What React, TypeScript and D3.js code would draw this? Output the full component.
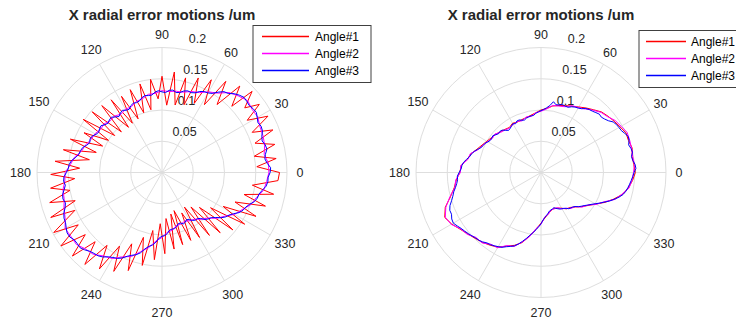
import { useEffect, useRef } from 'react';
import * as d3 from 'd3';

const width = 736;
const height = 325;
const titleText = 'X radial error motions /um';
const seriesNames = ['Angle#1', 'Angle#2', 'Angle#3'];
const seriesColors = ['#ff0000', '#ff00ff', '#0000ff'];
const thetaTicks = [0, 30, 60, 90, 120, 150, 180, 210, 240, 270, 300, 330];
const rTicks = [0.05, 0.1, 0.15, 0.2];

// sample angles (deg) of the measured traces
const fineAngles = d3.range(0, 360, 2.5);
const coarseAngles = d3.range(0, 360, 5);

// Angle#1 (left) is noisy and folds back on itself, so it keeps its own angles
const leftAngle1Theta = [
    0, 3.5, 7, 10, 14, 17.5, 21, 24, 28, 31.5, 35, 38, 42, 43.5, 48, 51, 55, 58, 62, 65,
    69, 72, 76, 79, 83, 86, 90, 93, 97, 100, 104, 107, 111, 114, 118, 121, 125, 126.5, 132, 135,
    139, 142, 146, 149, 153, 156, 160, 163, 167, 170, 174, 177, 181, 184, 188, 191, 195, 198, 202, 203.5,
    209, 212, 216, 219, 223, 226, 230, 233, 237, 240, 244, 247, 251, 254, 258, 261, 265, 268, 272, 275,
    279, 282, 286, 287.5, 293, 296, 300, 303, 307, 310, 314, 317, 321, 324, 328, 331, 335, 338, 342, 345,
    349, 352, 356
];

// radial error values, in 1e-3 um
const leftAngle1 = [
    188, 152, 184, 150, 186, 156, 190, 158, 192, 160, 190, 168, 194, 154, 186, 140, 178, 128, 168, 122,
    162, 114, 156, 110, 162, 108, 154, 118, 150, 102, 146, 100, 142, 94, 138, 92, 142, 90, 144, 92,
    148, 96, 152, 100, 140, 104, 156, 110, 162, 118, 172, 132, 178, 140, 180, 150, 186, 146, 192, 152,
    198, 158, 200, 158, 196, 154, 192, 146, 184, 136, 176, 124, 166, 108, 152, 94, 140, 82, 130, 74,
    124, 68, 120, 64, 118, 72, 120, 66, 126, 72, 134, 82, 146, 96, 156, 112, 166, 126, 174, 136,
    182, 146, 186
];
const leftAngle2 = [
    171, 171, 166, 170, 172, 173, 177, 176, 179, 173, 167, 155, 149, 141, 138, 133, 132, 130, 131, 127,
    127, 122, 121, 116, 117, 114, 118, 117, 121, 120, 124, 125, 130, 133, 142, 147, 155, 156, 161, 162,
    167, 171, 179, 178, 179, 173, 171, 163, 159, 149, 143, 131, 122, 110, 104, 96, 94, 88, 88, 86,
    89, 91, 98, 103, 114, 122, 134, 141, 151, 156, 165, 168
];
const leftAngle3 = [
    173, 174, 169, 166, 168, 172, 171, 168, 170, 174, 175, 173, 176, 179, 178, 176, 177, 178, 175, 171,
    165, 163, 157, 150, 147, 146, 143, 138, 136, 137, 135, 131, 130, 133, 132, 128, 129, 131, 129, 125,
    125, 126, 124, 120, 119, 120, 118, 114, 115, 118, 116, 113, 116, 120, 119, 117, 119, 123, 122, 120,
    122, 126, 127, 125, 128, 133, 135, 136, 140, 146, 149, 150, 153, 157, 158, 156, 159, 163, 164, 162,
    165, 170, 173, 174, 177, 180, 180, 177, 177, 178, 175, 171, 169, 168, 165, 160, 157, 155, 151, 145,
    141, 138, 133, 125, 120, 117, 112, 105, 102, 101, 98, 93, 92, 92, 90, 86, 86, 89, 88, 85,
    87, 91, 93, 93, 96, 102, 105, 107, 112, 119, 124, 127, 132, 139, 143, 145, 149, 155, 158, 159,
    163, 168, 170, 170
];
const rightAngle1 = [
    151, 149, 148, 151, 149, 150, 146, 143, 140, 137, 131, 126, 121, 117, 114, 111, 108, 103, 100, 96,
    93, 91, 90, 89, 91, 88, 90, 92, 95, 97, 100, 104, 109, 116, 120, 128, 130, 136, 141, 150,
    163, 170, 165, 158, 153, 149, 146, 142, 138, 130, 124, 116, 103, 91, 81, 73, 67, 63, 61, 63,
    66, 71, 73, 78, 85, 92, 101, 113, 124, 135, 142, 147
];
const rightAngle2 = [
    148, 150, 149, 150, 151, 152, 148, 145, 139, 136, 130, 124, 120, 118, 112, 110, 109, 102, 98, 96,
    91, 92, 88, 90, 89, 87, 89, 91, 96, 95, 99, 103, 107, 117, 119, 129, 129, 137, 140, 151,
    162, 169, 166, 157, 154, 147, 147, 140, 139, 129, 126, 115, 104, 90, 83, 71, 68, 62, 62, 62,
    67, 70, 75, 77, 86, 91, 102, 111, 126, 134, 143, 146
];
const rightAngle3 = [
    149, 152, 151, 148, 147, 150, 149, 147, 150, 151, 148, 145, 144, 143, 141, 136, 133, 131, 132, 130,
    128, 127, 125, 121, 119, 118, 116, 113, 113, 114, 112, 111, 115, 108, 104, 101, 99, 97, 95, 92,
    92, 91, 90, 88, 89, 91, 91, 88, 90, 88, 86, 85, 88, 92, 93, 92, 94, 97, 96, 96,
    98, 101, 102, 104, 108, 112, 115, 117, 121, 125, 127, 128, 131, 134, 134, 136, 139, 143, 146, 150,
    155, 158, 158, 161, 162, 159, 156, 154, 152, 150, 148, 147, 145, 142, 141, 139, 137, 135, 131, 128,
    125, 120, 114, 108, 102, 97, 92, 87, 82, 76, 72, 69, 66, 63, 62, 61, 60, 62, 64, 66,
    67, 68, 70, 73, 74, 75, 77, 81, 84, 87, 91, 95, 100, 106, 112, 119, 125, 131, 136, 139,
    141, 143, 145, 147
];

const charts = [
    {
        cx: 162,
        cy: 172.5,
        series: [
            { angles: leftAngle1Theta, values: leftAngle1 },
            { angles: coarseAngles, values: leftAngle2 },
            { angles: fineAngles, values: leftAngle3 }
        ],
        legend: { x: 253, y: 25.5, w: 118, h: 57, line: [9, 56], text: 62 }
    },
    {
        cx: 541,
        cy: 172.5,
        series: [
            { angles: coarseAngles, values: rightAngle1 },
            { angles: coarseAngles, values: rightAngle2 },
            { angles: fineAngles, values: rightAngle3 }
        ],
        legend: { x: 639, y: 30.5, w: 118, h: 57, line: [7, 47], text: 52 }
    }
];

const font = '"Liberation Sans", Arial, Helvetica, sans-serif';
const textColor = '#262626';
const gridColor = '#dedede';
const R = 125;

export default function App() {
    const ref = useRef<SVGSVGElement>(null);

    useEffect(() => {
        document.body.style.margin = '0';
        const svg = d3.select(ref.current);
        svg.selectAll('*').remove();
        svg.append('rect').attr('width', width).attr('height', height).attr('fill', '#fff');

        const rScale = d3.scaleLinear().domain([0, 0.2]).range([0, R]);
        const rad = (deg: number) => (deg * Math.PI) / 180;

        charts.forEach((c) => {
            const g = svg.append('g').attr('transform', `translate(${c.cx},${c.cy})`);

            // grid
            g.selectAll('circle.ring')
                .data(rTicks)
                .join('circle')
                .attr('r', (d) => rScale(d))
                .attr('fill', 'none')
                .attr('stroke', gridColor)
                .attr('stroke-width', 1);
            g.selectAll('line.spoke')
                .data(thetaTicks)
                .join('line')
                .attr('x1', 0)
                .attr('y1', 0)
                .attr('x2', (d) => R * Math.cos(rad(d)))
                .attr('y2', (d) => -R * Math.sin(rad(d)))
                .attr('stroke', gridColor)
                .attr('stroke-width', 1);

            // theta labels
            g.selectAll('text.theta')
                .data(thetaTicks)
                .join('text')
                .attr('font-family', font)
                .attr('font-size', 12.5)
                .attr('fill', textColor)
                .attr('text-anchor', 'middle')
                .attr('dominant-baseline', 'central')
                .each(function (d) {
                    const a = rad(d);
                    const wide = String(d).length === 3;
                    const off = 138 + (wide ? 3.5 * Math.abs(Math.cos(a)) + 2 * Math.abs(Math.sin(a)) : 0);
                    d3.select(this)
                        .attr('x', off * Math.cos(a))
                        .attr('y', -off * Math.sin(a))
                        .text(d);
                });

            // r labels at 80 deg
            g.selectAll('text.rtick')
                .data(rTicks)
                .join('text')
                .attr('font-family', font)
                .attr('font-size', 12.5)
                .attr('fill', textColor)
                .attr('dominant-baseline', 'central')
                .attr('x', (d) => rScale(d) * Math.cos(rad(80)) + 5)
                .attr('y', (d) => -rScale(d) * Math.sin(rad(80)) - 10)
                .text((d) => String(d));

            // traces, Angle#3 ends up on top
            c.series.forEach((s, i) => {
                const pts = s.values.map((v, k) => [s.angles[k], v / 1000] as [number, number]);
                const line = d3
                    .line<[number, number]>()
                    .x((d) => rScale(d[1]) * Math.cos(rad(d[0])))
                    .y((d) => -rScale(d[1]) * Math.sin(rad(d[0])))
                    .curve(d3.curveLinearClosed);
                g.append('path')
                    .attr('d', line(pts))
                    .attr('fill', 'none')
                    .attr('stroke', seriesColors[i])
                    .attr('stroke-width', 1);
            });

            // title
            svg.append('text')
                .attr('x', c.cx)
                .attr('y', 20)
                .attr('text-anchor', 'middle')
                .attr('font-family', font)
                .attr('font-size', 15)
                .attr('font-weight', 'bold')
                .attr('fill', textColor)
                .text(titleText);

            // legend
            const lg = svg.append('g').attr('transform', `translate(${c.legend.x},${c.legend.y})`);
            lg.append('rect')
                .attr('width', c.legend.w)
                .attr('height', c.legend.h)
                .attr('fill', '#fff')
                .attr('stroke', '#404040')
                .attr('stroke-width', 1);
            seriesNames.forEach((name, i) => {
                const y = 11 + i * 17;
                lg.append('line')
                    .attr('x1', c.legend.line[0])
                    .attr('x2', c.legend.line[1])
                    .attr('y1', y)
                    .attr('y2', y)
                    .attr('stroke', seriesColors[i])
                    .attr('stroke-width', 1.3);
                lg.append('text')
                    .attr('x', c.legend.text)
                    .attr('y', y)
                    .attr('dominant-baseline', 'central')
                    .attr('font-family', font)
                    .attr('font-size', 12)
                    .attr('fill', '#000')
                    .text(name);
            });
        });
    }, []);

    return <svg ref={ref} width={width} height={height} style={{ display: 'block' }} />;
}
